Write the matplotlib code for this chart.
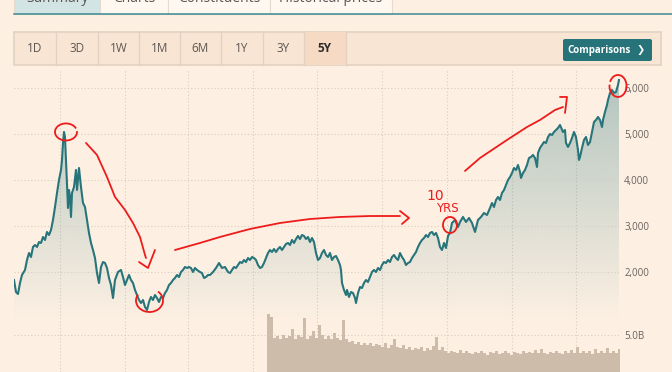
import numpy as np
import matplotlib
matplotlib.use("Agg")
import matplotlib.pyplot as plt
from matplotlib.patches import Rectangle, FancyBboxPatch, Polygon, Arc

plt.rcParams['font.family'] = ['Open Sans', 'DejaVu Sans']

# index closing level, by trading day over 5 years
day = [0, 4, 8, 12, 16, 22, 26, 30, 34, 38, 42, 46, 50, 54, 58, 62, 66, 70, 74, 78,
       82, 86, 90, 94, 96, 98, 100, 102, 104, 106, 108, 110, 112, 114, 116, 120, 124, 126, 130, 134,
       138, 142, 146, 150, 154, 158, 162, 166, 170, 174, 178, 182, 186, 190, 194, 198, 202, 208, 214, 218,
       222, 226, 230, 234, 238, 242, 246, 250, 254, 258, 262, 266, 270, 274, 278, 282, 286, 290, 294, 298,
       302, 306, 310, 314, 318, 322, 326, 330, 334, 338, 342, 346, 350, 354, 358, 362, 366, 372, 376, 380,
       384, 388, 392, 398, 404, 410, 416, 422, 428, 432, 436, 440, 444, 448, 452, 456, 460, 464, 468, 472,
       476, 480, 484, 488, 492, 496, 500, 504, 508, 512, 516, 520, 524, 528, 532, 536, 540, 544, 548, 552,
       556, 560, 564, 568, 572, 576, 580, 584, 588, 592, 596, 600, 604, 608, 612, 616, 620, 624, 628, 632,
       636, 640, 644, 648, 652, 654, 656, 660, 664, 666, 670, 674, 678, 682, 684, 688, 692, 696, 700, 704,
       708, 712, 716, 720, 724, 728, 732, 736, 740, 744, 748, 752, 756, 760, 764, 768, 772, 776, 780, 784,
       788, 792, 796, 800, 804, 808, 812, 816, 820, 824, 828, 832, 836, 840, 844, 848, 852, 856, 860, 864,
       868, 872, 876, 882, 888, 892, 898, 904, 910, 916, 922, 928, 934, 940, 946, 952, 956, 960, 964, 968,
       972, 976, 980, 984, 988, 992, 996, 1000, 1004, 1008, 1012, 1014, 1018, 1022, 1026, 1030, 1034, 1038, 1042, 1046,
       1048, 1052, 1056, 1060, 1064, 1068, 1072, 1076, 1080, 1084, 1088, 1092, 1098, 1102, 1104, 1108, 1112, 1116, 1120, 1124,
       1128, 1130, 1132, 1136, 1140, 1144, 1148, 1152, 1156, 1160, 1164, 1168, 1172, 1176, 1178, 1182, 1186, 1188, 1192, 1196,
       1200, 1204, 1208, 1210]
close = [1826, 1565, 1522, 1761, 1935, 2044, 2261, 2413, 2326, 2544, 2587, 2544, 2652, 2631, 2761, 2696, 2870, 2804, 2913, 3131,
         3413, 3718, 4000, 4218, 4435, 4805, 5044, 4935, 4435, 3935, 3391, 3783, 3631, 3196, 3718, 3848, 4218, 3783, 4261, 3848,
         3500, 3413, 3131, 2848, 2631, 2478, 2304, 1978, 1761, 2109, 2217, 2196, 2087, 1870, 1717, 1435, 1826, 2000, 2044, 1891,
         1717, 1826, 1935, 1826, 1761, 1609, 1500, 1391, 1326, 1391, 1239, 1174, 1348, 1457, 1391, 1500, 1435, 1348, 1457, 1435,
         1543, 1609, 1717, 1761, 1826, 1870, 1935, 1891, 2000, 2044, 2109, 2087, 2109, 2087, 2000, 2087, 2044, 2000, 1978, 1870,
         1891, 1935, 1935, 2000, 2087, 2196, 2087, 2109, 2000, 1978, 2044, 2109, 2087, 2152, 2217, 2196, 2261, 2217, 2304, 2261,
         2326, 2304, 2261, 2152, 2087, 2109, 2196, 2304, 2413, 2478, 2435, 2500, 2435, 2500, 2544, 2478, 2544, 2609, 2631, 2587,
         2696, 2631, 2717, 2783, 2717, 2804, 2783, 2717, 2761, 2652, 2739, 2652, 2413, 2261, 2304, 2413, 2478, 2370, 2326, 2413,
         2261, 2326, 2348, 2261, 2152, 2044, 1761, 1609, 1500, 1609, 1457, 1565, 1543, 1435, 1326, 1543, 1674, 1652, 1761, 1826,
         1783, 1891, 2000, 2044, 2000, 2087, 2044, 2152, 2217, 2196, 2261, 2217, 2326, 2370, 2304, 2261, 2413, 2326, 2261, 2152,
         2196, 2217, 2304, 2370, 2435, 2544, 2631, 2696, 2739, 2804, 2761, 2848, 2870, 2804, 2848, 2739, 2544, 2478, 2631, 2522,
         2783, 2848, 3065, 3131, 2978, 3087, 3196, 3087, 3174, 3065, 2870, 3131, 3196, 3283, 3239, 3391, 3500, 3413, 3565, 3631,
         3565, 3718, 3783, 3891, 4000, 4065, 4152, 4261, 4218, 4326, 4174, 4044, 4152, 4218, 4326, 4478, 4500, 4544, 4478, 4283,
         4587, 4696, 4761, 4826, 4805, 4935, 5000, 4978, 5044, 5087, 5131, 5196, 5044, 5087, 4805, 4718, 4805, 4913, 5044, 4935,
         4652, 4435, 4500, 4696, 4870, 4935, 4761, 4826, 5044, 5261, 5305, 5370, 5305, 5152, 5305, 5478, 5631, 5739, 5891, 5957,
         5891, 5913, 6065, 6174]

# traded volume, billions, one value per 6 trading days from day 506
vol_start = 506
vol_step = 6
volume_bn = [7.8, 7.4, 4.6, 4.9, 4.4, 5.0, 4.6, 4.8, 5.8, 4.5, 5.0, 4.7, 7.3, 4.4, 4.9, 5.6, 4.6, 6.3, 5.0, 4.5,
             4.9, 4.4, 5.3, 4.6, 4.3, 7.0, 4.4, 4.0, 4.2, 3.8, 4.1, 3.7, 3.9, 3.6, 3.9, 3.5, 3.8, 3.6, 3.4, 3.9,
             3.3, 3.6, 4.5, 3.4, 3.2, 3.6, 3.1, 3.4, 3.0, 3.3, 3.1, 3.4, 2.9, 3.2, 3.0, 3.5, 4.7, 3.0, 3.4, 2.8,
             2.6, 2.9, 2.7, 2.6, 3.0, 2.5, 2.8, 2.6, 2.4, 2.7, 2.5, 2.8, 2.6, 2.3, 2.7, 2.5, 2.9, 2.4, 2.6, 2.8,
             2.5, 2.3, 2.7, 2.6, 2.4, 2.9, 2.5, 2.7, 2.6, 3.0, 2.5, 3.1, 2.6, 2.4, 2.7, 2.5, 2.9, 2.6, 2.4, 2.8,
             2.5, 3.0, 2.6, 3.4, 2.5, 2.8, 2.6, 2.9, 2.4, 3.1, 2.6, 2.8, 2.5, 3.2, 2.6, 2.9, 2.6, 3.1]

price_ticks = [2000, 3000, 4000, 5000, 6000]
grid_days = [92, 222, 348, 478, 606, 736, 866, 996, 1124]
tabs = ['Summary', 'Charts', 'Constituents', 'Historical prices']
tab_edges = [14, 100, 168, 270, 392]
ranges = ['1D', '3D', '1W', '1M', '6M', '1Y', '3Y', '5Y']
range_edges = [14, 56, 98, 139, 180, 221, 263, 304, 346]

bg = '#fdf0e3'
teal = '#27757b'
red = '#ee1b1b'
label_col = '#66605b'

fig = plt.figure(figsize=(6.72, 3.72), dpi=100, facecolor=bg)

# page chrome (tabs and range buttons), in pixel units
ui = fig.add_axes([0, 0, 1, 1], zorder=0)
ui.set_xlim(0, 672)
ui.set_ylim(372, 0)
ui.axis('off')
for i, name in enumerate(tabs):
    x0, x1 = tab_edges[i], tab_edges[i + 1]
    fc = '#d3e4e4' if i == 0 else '#fff8f1'
    ui.add_patch(Rectangle((x0, -10), x1 - x0, 24, fc=fc, ec='#e6dbcf', lw=0.8))
    ui.text((x0 + x1) / 2, -2, name, ha='center', va='center', fontsize=10, color='#5a5552')
ui.plot([14, 672], [14, 14], color='#3b8a90', lw=1.1)

ui.add_patch(Rectangle((14, 32), 647, 33, fc='#f9e5d4', ec='#e3d1c1', lw=1.2))
ui.add_patch(Rectangle((304, 32), 42, 33, fc='#f6dac4', ec='none'))
for i, name in enumerate(ranges):
    x0, x1 = range_edges[i], range_edges[i + 1]
    ui.plot([x1, x1], [32, 65], color='#e3d1c1', lw=1)
    sel = name == '5Y'
    ui.text((x0 + x1) / 2, 49, name, ha='center', va='center', fontsize=8.5,
            color='#2f2b29' if sel else '#5c5652', fontweight='bold' if sel else 'normal')

ui.add_patch(FancyBboxPatch((563, 39), 89, 22, boxstyle='round,pad=0,rounding_size=2',
                            fc='#267479', ec='none'))
ui.text(599, 50, 'Comparisons', ha='center', va='center', fontsize=7, color='white', fontweight='bold')
ui.text(641, 50, '❯', ha='center', va='center', fontsize=7, color='white', fontweight='bold',
        family=['DejaVu Sans'])

# volume panel (behind the price panel)
rect = [14 / 672, 0, 606 / 672, 302 / 372]
axv = fig.add_axes(rect, zorder=1)
axv.patch.set_visible(False)
vol_days = [vol_start + vol_step * i for i in range(len(volume_bn))]
axv.bar(vol_days, volume_bn, width=vol_step, align='edge', color='#cdbca9', lw=0, zorder=2)
axv.set_xlim(0, 1212)
axv.set_ylim(0, 40.8)
axv.axhline(5, color='#d8cdc1', lw=0.8, ls=(0, (1, 2)), zorder=1)
for d in grid_days:
    axv.axvline(d, color='#d8cdc1', lw=0.8, ls=(0, (1, 2)), zorder=1)
axv.yaxis.tick_right()
axv.set_yticks([5])
axv.set_yticklabels(['5.0B'])
axv.set_xticks([])
axv.tick_params(length=0, pad=3, labelsize=7, labelcolor=label_col)
for s in axv.spines.values():
    s.set_visible(False)

# price panel
ax = fig.add_axes(rect, zorder=2)
ax.patch.set_visible(False)
ylo, yhi = -174, 6391
for v in price_ticks:
    ax.axhline(v, color='#d8cdc1', lw=0.8, ls=(0, (1, 2)), zorder=2)

ys = np.linspace(ylo, yhi, 256)
alpha = np.clip((ys - 900) / (6200 - 900), 0, 1) * 0.35
grad = np.zeros((256, 1, 4))
grad[..., :3] = matplotlib.colors.to_rgb(teal)
grad[..., 3] = alpha[:, None]
img = ax.imshow(grad, extent=[0, 1212, ylo, yhi], origin='lower', aspect='auto',
                interpolation='bilinear', zorder=1)
area = Polygon(list(zip(day, close)) + [(day[-1], ylo), (day[0], ylo)], closed=True,
               fc='none', ec='none', transform=ax.transData)
ax.add_patch(area)
img.set_clip_path(area)

ax.plot(day, close, color=teal, lw=1.5, zorder=3, solid_joinstyle='round')

ax.set_xlim(0, 1212)
ax.set_ylim(ylo, yhi)
ax.yaxis.tick_right()
ax.set_yticks(price_ticks)
ax.set_yticklabels([f'{v:,}' for v in price_ticks])
ax.set_xticks([])
ax.tick_params(length=0, pad=3, labelsize=7, labelcolor=label_col)
for s in ax.spines.values():
    s.set_visible(False)

# hand-drawn red notes
kw = dict(color=red, lw=1.3, zorder=6, clip_on=False, solid_capstyle='round')
ax.add_patch(Arc((104, 5044), 44, 370, theta1=75, theta2=400, color=red, lw=1.3, zorder=6, clip_on=False))
ax.plot([144, 166, 186, 202, 222, 238, 252, 262, 264],
        [4805, 4544, 4065, 3631, 3348, 3065, 2761, 2370, 2304], **kw)
ax.plot([250, 268, 282], [2217, 2087, 2478], **kw)
ax.add_patch(Arc((271, 1380), 54, 500, theta1=100, theta2=445, color=red, lw=1.3, zorder=6, clip_on=False))
ax.plot([322, 372, 412, 472, 532, 592, 652, 712, 772],
        [2478, 2631, 2761, 2935, 3065, 3152, 3196, 3217, 3217], **kw)
ax.plot([772, 790, 776], [3326, 3174, 3044], **kw)
ax.text(843, 3650, '10', color=red, fontsize=10, ha='center', va='center', zorder=6,
        family=['DejaVu Sans'])
ax.text(866, 3380, 'YRS', color=red, fontsize=8.5, ha='center', va='center', zorder=6,
        family=['DejaVu Sans'])
ax.add_patch(Arc((872, 3022), 28, 348, theta1=0, theta2=360, color=red, lw=1.3, zorder=6, clip_on=False))
ax.plot([902, 932, 986, 1026, 1052, 1082, 1098],
        [4196, 4478, 4870, 5152, 5305, 5522, 5587], **kw)
ax.plot([1092, 1106, 1102], [5805, 5805, 5457], **kw)
ax.add_patch(Arc((1208, 6044), 34, 478, theta1=120, theta2=460, color=red, lw=1.3, zorder=6, clip_on=False))

fig.savefig('out.png', dpi=100, facecolor=bg)
